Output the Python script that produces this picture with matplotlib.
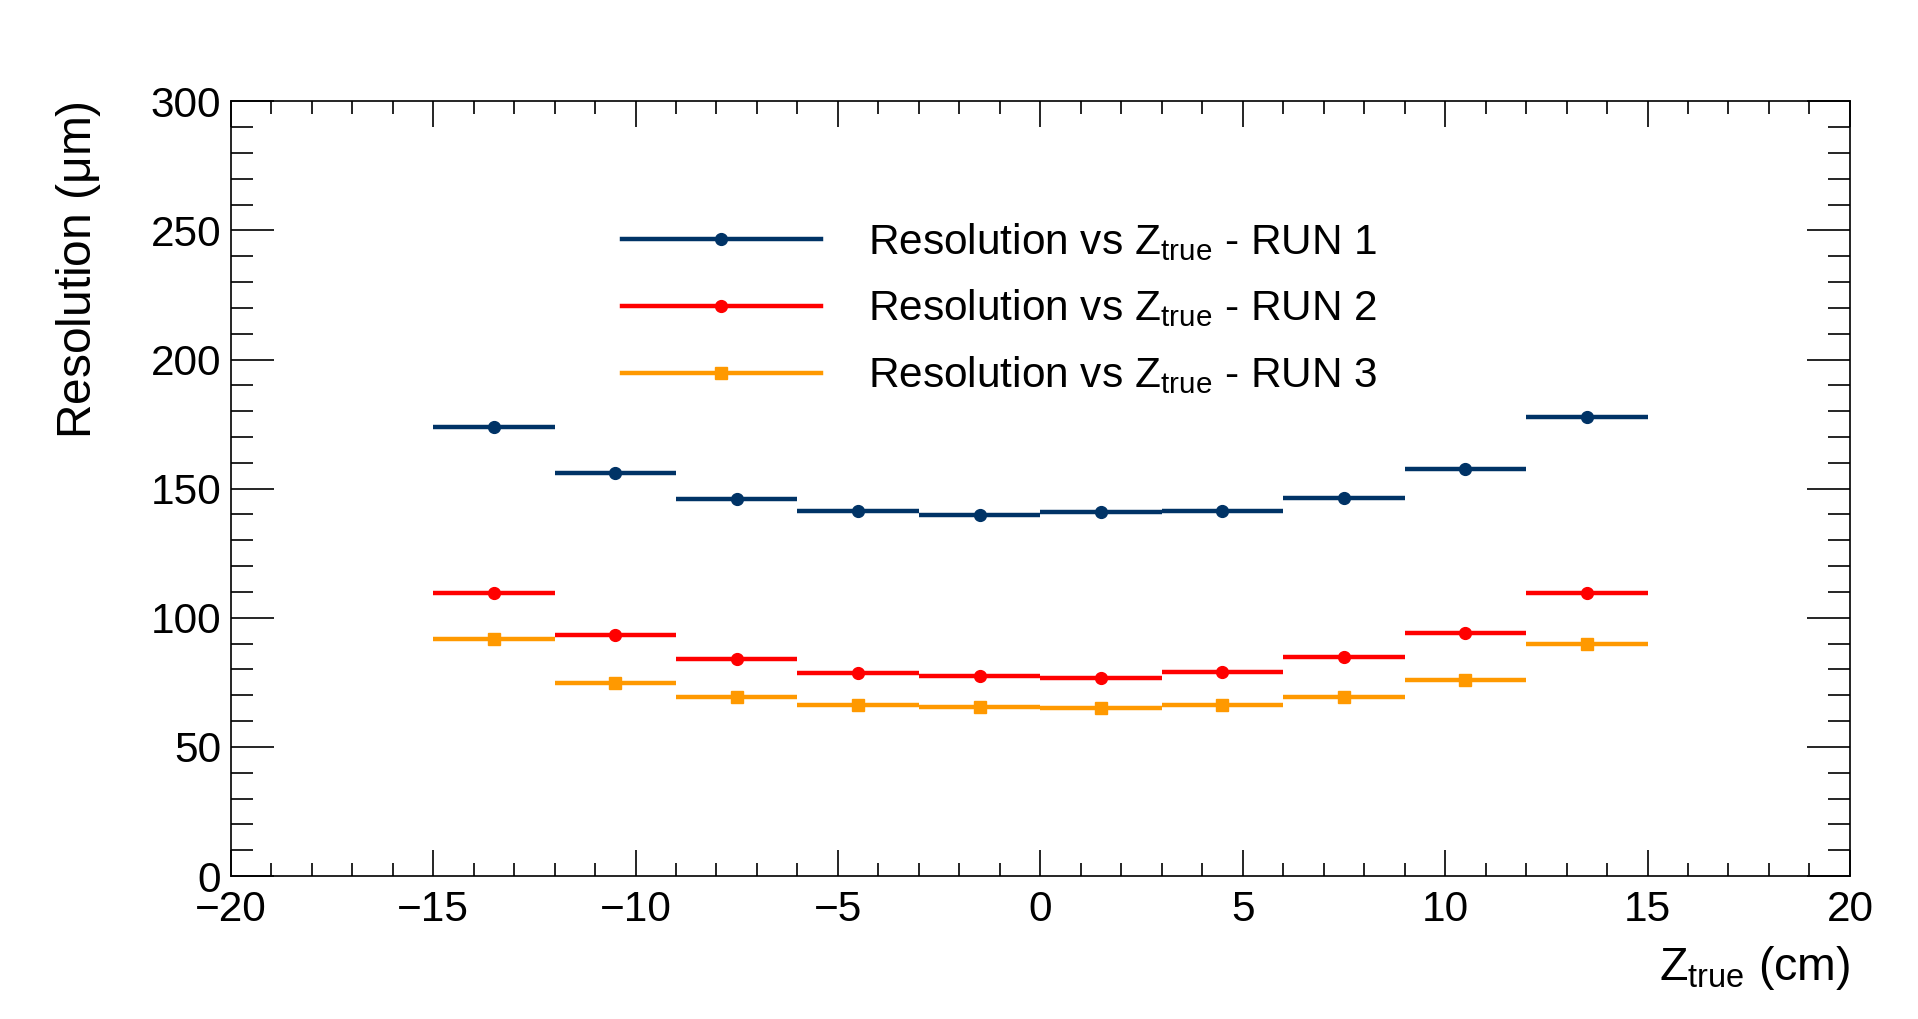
import matplotlib
matplotlib.use('Agg')
import matplotlib.pyplot as plt
from matplotlib.lines import Line2D
from matplotlib.ticker import MultipleLocator
import numpy as np

# bin centres (cm), bins are 3 cm wide
z_true = [-13.5, -10.5, -7.5, -4.5, -1.5, 1.5, 4.5, 7.5, 10.5, 13.5]
run1 = [174.0, 156.0, 146.0, 141.2, 139.8, 140.8, 141.2, 146.4, 157.8, 177.7]
run2 = [109.5, 93.4, 83.9, 78.7, 77.3, 76.8, 79.1, 84.8, 94.3, 109.5]
run3 = [91.9, 74.9, 69.2, 66.4, 65.4, 64.9, 66.4, 69.2, 75.8, 90.0]
labels = [r'Resolution vs $\mathregular{Z_{true}}$ - RUN 1',
          r'Resolution vs $\mathregular{Z_{true}}$ - RUN 2',
          r'Resolution vs $\mathregular{Z_{true}}$ - RUN 3']
colors = ['#003366', '#ff0000', '#ff9900']
markers = ['o', 'o', 's']

plt.rcParams['font.family'] = ['Liberation Sans', 'DejaVu Sans']

fig = plt.figure(figsize=(19.18, 10.19), dpi=100)
ax = fig.add_axes([0.1203, 0.1403, 0.8442, 0.7603])

half = 1.5
handles = []
for y, c, m, lab in zip([run1, run2, run3], colors, markers, labels):
    ax.errorbar(z_true, y, xerr=half, fmt=m, color=c, ecolor=c, elinewidth=3.2,
                markersize=8.5, capsize=0)
    handles.append(Line2D([], [], color=c, lw=3.2, marker=m, markersize=8.5))

ax.set_xlim(-20, 20)
ax.set_ylim(0, 300)
ax.xaxis.set_major_locator(MultipleLocator(5))
ax.xaxis.set_minor_locator(MultipleLocator(1))
ax.yaxis.set_major_locator(MultipleLocator(50))
ax.yaxis.set_minor_locator(MultipleLocator(10))
ax.tick_params(which='both', direction='in', top=True, right=True, width=1.2)
ax.tick_params(axis='x', which='major', length=19, labelsize=30.5, pad=10)
ax.tick_params(axis='x', which='minor', length=9.5)
ax.tick_params(axis='y', which='major', length=31, labelsize=30.5, pad=7)
ax.tick_params(axis='y', which='minor', length=16)
for s in ax.spines.values():
    s.set_linewidth(1.2)

ax.set_xlabel(r'$\mathregular{Z_{true}}$ (cm)', fontsize=33.5, loc='right')
ax.xaxis.set_label_coords(1.0, -0.088)
ax.set_ylabel(r'Resolution ($\mathregular{\mu}$m)', fontsize=34.5, loc='top')
ax.yaxis.set_label_coords(-0.079, 1.0)

leg = ax.legend(handles, labels, loc='upper left', bbox_to_anchor=(0.218, 0.895),
                frameon=False, fontsize=30.5, handlelength=4.7, handletextpad=1.1,
                labelspacing=0.59, numpoints=1)

fig.savefig('out.png', dpi=100)
